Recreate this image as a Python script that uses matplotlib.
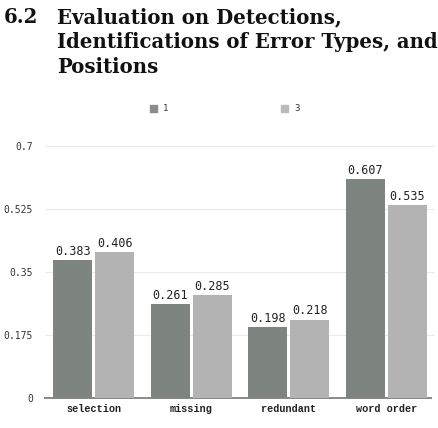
import matplotlib
matplotlib.use("Agg")
import matplotlib.pyplot as plt
import numpy as np
from matplotlib.patches import Rectangle

categories = ["selection", "missing", "redundant", "word order"]
series_names = ["1", "3"]
values_1 = [0.383, 0.261, 0.198, 0.607]
values_3 = [0.406, 0.285, 0.218, 0.535]
yticks = [0, 0.175, 0.35, 0.525, 0.7]
ytick_labels = ["0", "0.175", "0.35", "0.525", "0.7"]
colors = ["#7e8581", "#b3b3b3"]

W, H = 439, 428
fig = plt.figure(figsize=(W/100, H/100), dpi=100)

# Title
tfont = dict(family="DejaVu Serif", weight="bold", fontsize=14.2, color="#111111")
fig.text(4/W, 1-23/H, "6.2", va="baseline", ha="left", **tfont)
fig.text(57/W, 1-23/H, "Evaluation on Detections,", va="baseline", ha="left", **tfont)
fig.text(57/W, 1-48/H, "Identifications of Error Types, and", va="baseline", ha="left", **tfont)
fig.text(57/W, 1-73/H, "Positions", va="baseline", ha="left", **tfont)

ax_l, ax_r = 45, 435
ax_t, ax_b = 146, 398
ax = fig.add_axes([ax_l/W, 1-ax_b/H, (ax_r-ax_l)/W, (ax_b-ax_t)/H])

x = np.arange(len(categories))
bw = 0.40
off = 0.215
b1 = ax.bar(x-off, values_1, bw, color=colors[0], label=series_names[0], zorder=3)
b3 = ax.bar(x+off, values_3, bw, color=colors[1], label=series_names[1], zorder=3)

for bars, vals in ((b1, values_1), (b3, values_3)):
    for r, v in zip(bars, vals):
        ax.text(r.get_x()+r.get_width()/2, v+0.006, f"{v:.3f}", ha="center", va="bottom",
                family="DejaVu Sans Mono", fontsize=8.5, color="#222222", zorder=4)

ax.set_xlim(-0.5, 3.5)
ax.set_ylim(0, 0.7)
ax.set_yticks(yticks)
ax.set_yticklabels(ytick_labels, family="DejaVu Sans Mono", fontsize=7, color="#333333")
ax.set_xticks(x)
ax.set_xticklabels(categories, family="Liberation Mono", weight="bold", fontsize=7.3, color="#222222")
ax.tick_params(axis="both", length=0)
ax.tick_params(axis="y", pad=8.5)
ax.tick_params(axis="x", pad=4)
ax.grid(axis="y", color="#ebebeb", linewidth=0.8, zorder=0)
for s in ["top", "right", "left"]:
    ax.spines[s].set_visible(False)
ax.spines["bottom"].set_color("#888888")
ax.spines["bottom"].set_linewidth(1.4)
ax.spines["bottom"].set_bounds(-0.5, 3.46)

# Legend
for px, name, c in ((150, "1", "#8c8c8c"), (281, "3", "#bbbbbb")):
    fig.patches.append(Rectangle((px/W, 1-112/H), 7/W, 7/H, transform=fig.transFigure,
                                 color=c, figure=fig))
    fig.text((px+13)/W, 1-108.5/H, name, va="center", ha="left",
             family="DejaVu Sans Mono", fontsize=6.5, color="#333333")

fig.savefig("out.png", dpi=100)
